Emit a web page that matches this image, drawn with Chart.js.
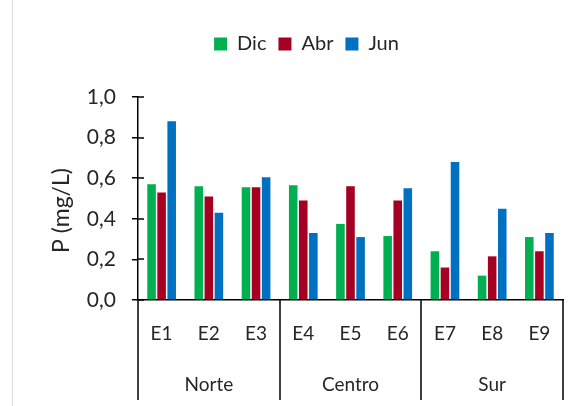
<!DOCTYPE html>
<html>
<head>
<meta charset="utf-8">
<script src="https://cdn.jsdelivr.net/npm/chart.js@4"></script>
<style>
  body { margin: 0; background: #fff; }
  #wrap { position: relative; width: 581px; height: 406px; }
  #edge { position: absolute; left: 12px; top: 0; width: 0; height: 406px; border-left: 1px solid #d9d9d9; }
</style>
</head>
<body>
<div id="wrap">
  <div id="edge"></div>
  <canvas id="chart" width="581" height="406"></canvas>
</div>
<script>
var stations = ["E1", "E2", "E3", "E4", "E5", "E6", "E7", "E8", "E9"];
var zones = ["Norte", "Centro", "Sur"];
var dic = [0.57, 0.56, 0.555, 0.565, 0.375, 0.315, 0.24, 0.12, 0.31];
var abr = [0.53, 0.51, 0.555, 0.49, 0.56, 0.49, 0.16, 0.215, 0.24];
var jun = [0.88, 0.43, 0.605, 0.33, 0.31, 0.55, 0.68, 0.45, 0.33];
var yTicks = [0, 0.2, 0.4, 0.6, 0.8, 1.0];
var yTitle = 'P (mg/L)';

var FONT = "Lato";
var TXT = '#262626';

// extra room under the legend, and move it a bit to the right like the original
var legendGap = {
    id: 'legendGap',
    beforeInit: function (chart) {
        var fit = chart.legend.fit;
        chart.legend.fit = function () {
            fit.bind(chart.legend)();
            this.height += 33;
        };
    },
    afterLayout: function (chart) {
        chart.legend.left += 25;
        chart.legend.right += 25;
    }
};

// zone separators under the x axis, inner half of the y tick marks, y title
var zoneLines = {
    id: 'zoneLines',
    afterDraw: function (chart) {
        var x = chart.scales.x;
        var y = chart.scales.y;
        var x2 = chart.scales.x2;
        var ctx = chart.ctx;
        var per = stations.length / zones.length;
        var w = (x.right - x.left) / stations.length;
        ctx.save();
        ctx.strokeStyle = 'black';
        ctx.lineWidth = 1.5;
        for (var i = 0; i <= zones.length; i++) {
            var px = Math.round(x.left + i * per * w);
            ctx.beginPath();
            ctx.moveTo(px, chart.chartArea.bottom);
            ctx.lineTo(px, x2.bottom - 6);
            ctx.stroke();
        }
        yTicks.forEach(function (v) {
            var py = Math.round(y.getPixelForValue(v));
            ctx.beginPath();
            ctx.moveTo(x.left, py);
            ctx.lineTo(x.left + 6, py);
            ctx.stroke();
        });
        // axis title, sits a little below the middle of the plot in the original
        ctx.translate(62, (y.top + y.bottom) / 2 + 12);
        ctx.rotate(-Math.PI / 2);
        ctx.fillStyle = TXT;
        ctx.font = '23px ' + FONT;
        ctx.textAlign = 'center';
        ctx.textBaseline = 'middle';
        ctx.fillText(yTitle, 0, 0);
        ctx.restore();
    }
};

new Chart("chart", {
    type: "bar",
    data: {
        labels: stations,
        datasets: [
            { label: "Dic", data: dic, backgroundColor: "#00B050" },
            { label: "Abr", data: abr, backgroundColor: "#A50021" },
            { label: "Jun", data: jun, backgroundColor: "#0070C0" }
        ]
    },
    options: {
        responsive: false,
        animation: false,
        categoryPercentage: 0.64,
        barPercentage: 0.85,
        layout: { padding: { left: 0, right: 18, top: 22, bottom: 0 } },
        plugins: {
            legend: {
                display: true,
                labels: {
                    color: TXT,
                    boxWidth: 13,
                    boxHeight: 13,
                    padding: 12,
                    font: { size: 20, family: FONT }
                }
            },
            tooltip: { enabled: false }
        },
        scales: {
            y: {
                min: 0,
                max: 1,
                afterFit: function (s) { s.width = 138; },
                afterBuildTicks: function (axis) {
                    axis.ticks = yTicks.map(function (v) { return { value: v }; });
                },
                border: { color: 'black', width: 1.5 },
                grid: { drawOnChartArea: false, color: 'black', tickLength: 6, lineWidth: 1.5 },
                ticks: {
                    color: TXT,
                    padding: 16,
                    font: { size: 21, family: FONT },
                    callback: function (v) { return v.toFixed(1).replace('.', ','); }
                }
            },
            x: {
                afterFit: function (s) { s.height = 46; },
                border: { color: 'black', width: 1.5 },
                grid: { display: false },
                ticks: {
                    color: TXT,
                    padding: 14,
                    font: { size: 19, family: FONT }
                }
            },
            x2: {
                type: 'category',
                labels: zones,
                position: 'bottom',
                offset: true,
                afterFit: function (s) { s.height = 60; },
                border: { display: false },
                grid: { display: false },
                ticks: {
                    color: TXT,
                    padding: 19,
                    font: { size: 19, family: FONT }
                }
            }
        }
    },
    plugins: [legendGap, zoneLines]
});
</script>
</body>
</html>
